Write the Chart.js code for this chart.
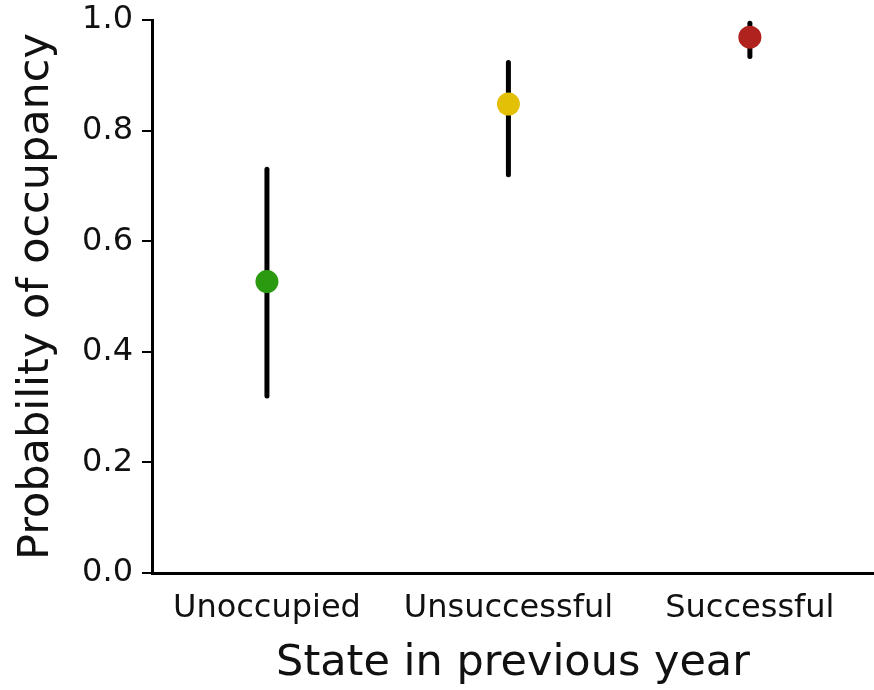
<!DOCTYPE html>
<html>
<head>
<meta charset="utf-8">
<script src="https://cdn.jsdelivr.net/npm/chart.js@4/dist/chart.umd.min.js"></script>
<style>
  html, body { margin: 0; padding: 0; background: #fff; overflow: hidden; }
  #wrap { width: 874px; height: 690px; }
</style>
</head>
<body>
<div id="wrap"><canvas id="c" width="874" height="690"></canvas></div>
<script>
// Occupancy probability by state in the previous year, with interval bounds
const categories = ['Unoccupied', 'Unsuccessful', 'Successful'];
const estimates = [0.527, 0.848, 0.969];
const lowerBounds = [0.320, 0.720, 0.934];
const upperBounds = [0.730, 0.923, 0.994];
const pointColors = ['#2b9a10', '#e3bf05', '#b0221e'];
const yTicks = [0, 0.2, 0.4, 0.6, 0.8, 1.0];

const positions = categories.map((_, i) => i + 1);
const points = positions.map((x, i) => ({ x: x, y: estimates[i] }));

// Vertical interval lines behind each point
const intervalPlugin = {
  id: 'intervals',
  beforeDatasetsDraw(chart) {
    const { ctx, scales } = chart;
    ctx.save();
    ctx.strokeStyle = '#000';
    ctx.lineWidth = 5;
    ctx.lineCap = 'round';
    positions.forEach((x, i) => {
      const px = scales.x.getPixelForValue(x);
      ctx.beginPath();
      ctx.moveTo(px, scales.y.getPixelForValue(lowerBounds[i]));
      ctx.lineTo(px, scales.y.getPixelForValue(upperBounds[i]));
      ctx.stroke();
    });
    ctx.restore();
  }
};

const family = '"DejaVu Sans", Verdana, sans-serif';
const tickFont = { family: family, size: 32 };
const titleFont = { family: family, size: 43 };

new Chart(document.getElementById('c'), {
  type: 'scatter',
  data: {
    datasets: [{
      data: points,
      pointBackgroundColor: pointColors,
      pointBorderColor: pointColors,
      pointRadius: 11.5,
      pointHoverRadius: 11.5,
      borderWidth: 0
    }]
  },
  options: {
    responsive: false,
    animation: false,
    layout: { autoPadding: false, padding: { top: 20, right: 0, left: 0, bottom: 0 } },
    plugins: { legend: { display: false }, tooltip: { enabled: false } },
    scales: {
      x: {
        type: 'linear',
        min: 0.524,
        max: 3.514,
        afterBuildTicks(scale) { scale.ticks = positions.map(v => ({ value: v })); },
        afterFit(scale) {
          scale.height = 117;
          scale.paddingLeft = 0;
          scale.paddingRight = 0;
        },
        ticks: {
          callback: (v) => categories[Math.round(v) - 1] || '',
          color: '#111',
          font: tickFont,
          padding: 16,
          maxRotation: 0,
          autoSkip: false
        },
        grid: { drawOnChartArea: false, drawTicks: false },
        border: { display: true, color: '#000', width: 3 },
        title: {
          display: true,
          text: 'State in previous year',
          color: '#111',
          font: titleFont,
          padding: { top: 0, bottom: 0 }
        }
      },
      y: {
        min: 0,
        max: 1,
        afterBuildTicks(scale) { scale.ticks = yTicks.map(v => ({ value: v })); },
        afterFit(scale) {
          scale.width = 152;
          scale.paddingTop = 0;
          scale.paddingBottom = 0;
        },
        ticks: {
          callback: (v) => v.toFixed(1),
          color: '#111',
          font: tickFont,
          padding: 9
        },
        grid: { drawOnChartArea: false, drawTicks: true, tickLength: 10, color: '#000', lineWidth: 2 },
        border: { display: true, color: '#000', width: 3 },
        title: {
          display: true,
          text: 'Probability of occupancy',
          color: '#111',
          font: titleFont,
          padding: { top: 11, bottom: 0 }
        }
      }
    }
  },
  plugins: [intervalPlugin]
});
</script>
</body>
</html>
